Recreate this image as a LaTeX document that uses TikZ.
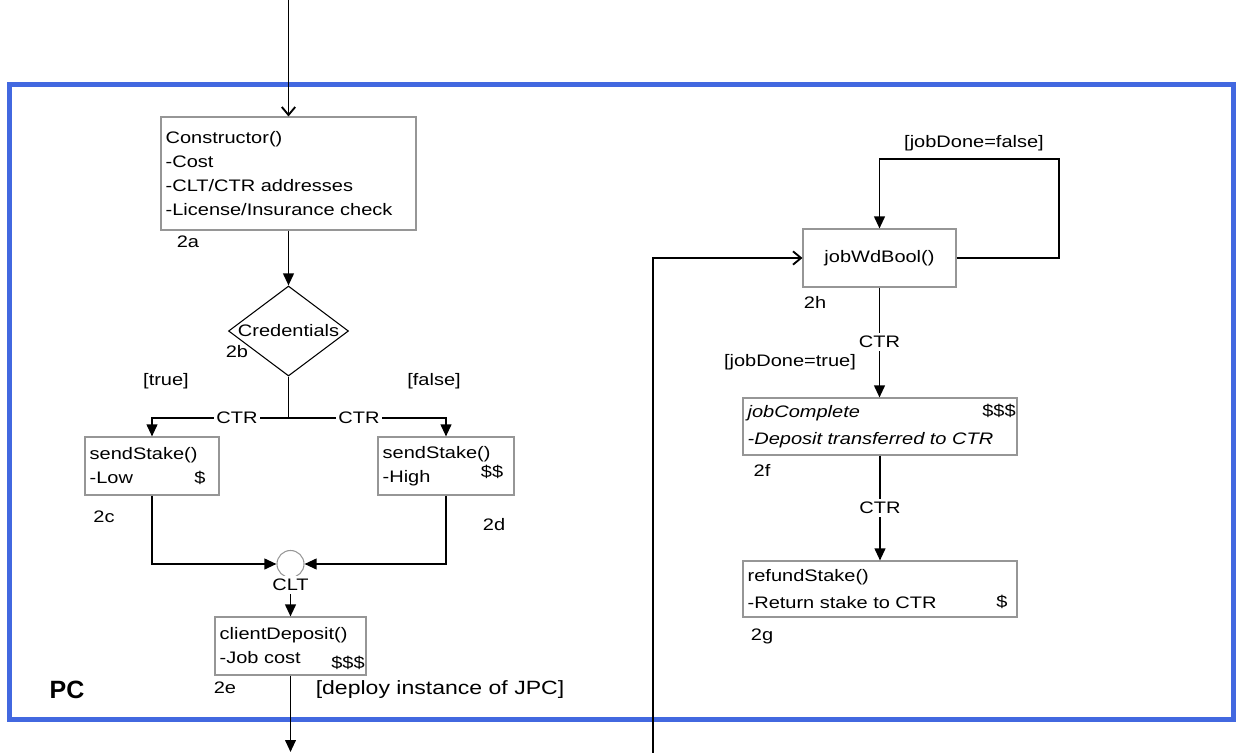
\documentclass[tikz,border=0pt]{standalone}
\usepackage{fontspec}
\setmainfont{Liberation Sans}[FakeStretch=1.2]
\newfontfamily\pcfont{Liberation Sans}
\usetikzlibrary{arrows.meta,shapes.geometric}
\definecolor{frameblue}{RGB}{66,104,224}
\definecolor{boxgray}{RGB}{150,150,150}
\begin{document}
\begin{tikzpicture}[x=0.75pt,y=-0.75pt,
  every node/.style={font=\fontsize{12.5}{18}\selectfont, inner sep=0pt},
  box/.style={draw=boxgray, line width=0.8pt, rectangle, align=left, inner xsep=3.5pt, inner ysep=0pt, anchor=center},
  conn/.style={line width=1.4pt, -{Triangle[length=9pt,width=8pt]}},
  plainline/.style={line width=1.4pt},
  openconn/.style={line width=1.4pt, -{Straight Barb[length=6pt,width=10pt]}},
  lbl/.style={fill=white, inner sep=2pt},
  tag/.style={anchor=center}
]
\useasboundingbox (0,0) rectangle (1236,753);
% frame
\draw[frameblue, line width=3.75pt] (9,84) rectangle (1233,719);

% left column
\node[box, text width=184.25pt, minimum height=84.75pt] (cons) at (288.5,173.5)
  {Constructor()\\-Cost\\-CLT/CTR addresses\\-License/Insurance check};
\node[tag] (t2a) at (188,242) {2a};
\node[draw, diamond, line width=0.8pt, minimum width=90pt, minimum height=67.5pt, shape aspect=1.33] (dia) at (288.5,331) {Credentials};
\node[tag] (t2b) at (237,352) {2b};
\node[tag] (ttrue) at (166,381) {[true]};
\node[tag] (tfalse) at (434,381) {[false]};
\node[box, text width=93.5pt, minimum height=43.5pt] (low) at (152,466) {sendStake()\\-Low};
\node[tag] (dl) at (200,478) {\$};
\node[tag] (t2c) at (104,517) {2c};
\node[box, text width=95pt, minimum height=43.5pt] (high) at (446,466) {sendStake()\\-High};
\node[tag] (dh) at (492,472) {\$\$};
\node[tag] (t2d) at (494,525) {2d};
\node[draw=boxgray, circle, line width=0.8pt, minimum size=20.25pt] (merge) at (290.5,564) {};
\node[box, text width=106.25pt, minimum height=43.5pt] (dep) at (290.5,646) {clientDeposit()\\-Job cost};
\node[tag] (dd) at (348,663) {\$\$\$};
\node[tag] (t2e) at (225,688) {2e};
\node[tag, font=\pcfont\bfseries\fontsize{18.75}{20}\selectfont] (pc) at (67,690) {PC};
\node[tag, font=\fontsize{14.4}{18}\selectfont] (deploy) at (440,690) {[deploy instance of JPC]};

% right column
\node[box, align=center, text width=107.75pt, minimum height=43.5pt] (wd) at (879.5,258) {jobWdBool()};
\node[tag] (t2h) at (815,302) {2h};
\node[tag] (tjf) at (974,143) {[jobDone=false]};
\node[tag] (tjt) at (790,362) {[jobDone=true]};
\node[box, text width=198.5pt, minimum height=42.75pt, font=\fontsize{12.5}{20}\selectfont\itshape] (jc) at (880,426.5) {jobComplete\\-Deposit transferred to CTR};
\node[tag] (djc) at (999,411) {\$\$\$};
\node[tag] (t2f) at (762,470) {2f};
\node[box, text width=198.5pt, minimum height=42pt, font=\fontsize{12.5}{20}\selectfont] (rs) at (880,589) {refundStake()\\-Return stake to CTR};
\node[tag] (drs) at (1002,602) {\$};
\node[tag] (t2g) at (762,636) {2g};

% connectors
\coordinate (topin) at (288.5,0);
\draw[openconn] (topin) -- (cons.north);
\draw[conn] (cons.south) -- (dia.north);
\coordinate (split) at (288.5,418);
\draw[plainline] (dia.south) -- (split);
\draw[conn] (split) -| (low.north);
\draw[conn] (split) -| (high.north);
\node[lbl] (ctr1) at (237,418) {CTR};
\node[lbl] (ctr2) at (359,418) {CTR};
\draw[conn] (low.south) |- (merge.west);
\draw[conn] (high.south) |- (merge.east);
\draw[conn] (merge.south) -- (dep.north);
\node[lbl] (clt) at (290.5,585) {CLT};
\coordinate (out1) at (290.5,752);
\draw[conn] (dep.south) -- (out1);

\coordinate (in2) at (653,753);
\draw[openconn] (in2) |- (wd.west);
\coordinate (loopc) at (1059,159);
\draw[conn] (wd.east) -| (loopc) -| (wd.north);
\draw[conn] (wd.south) -- (wd.south |- jc.north);
\node[lbl] (ctr3) at (879.5,342) {CTR};
\draw[conn] (jc.south) -- (jc.south |- rs.north);
\node[lbl] (ctr4) at (880,508) {CTR};
\end{tikzpicture}
\end{document}
